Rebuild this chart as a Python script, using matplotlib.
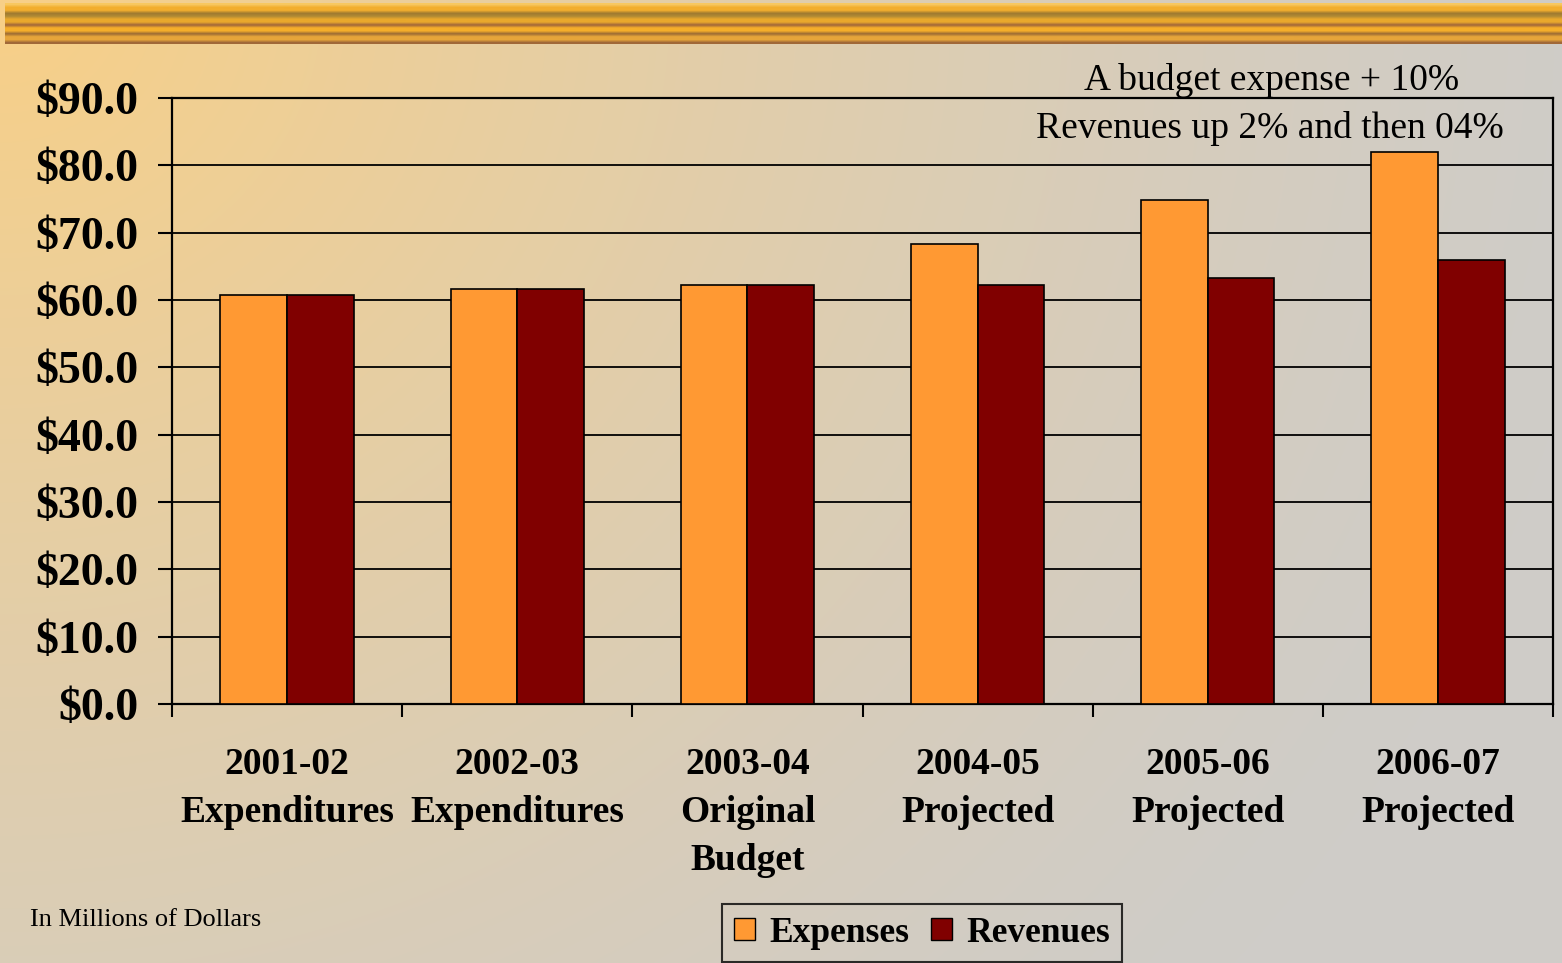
import numpy as np
import matplotlib
matplotlib.use("Agg")
import matplotlib.pyplot as plt
from matplotlib.colors import to_rgb
from matplotlib.patches import Patch

# Daten (Millionen Dollar)
categories = ["2001-02\nExpenditures", "2002-03\nExpenditures", "2003-04\nOriginal\nBudget",
              "2004-05\nProjected", "2005-06\nProjected", "2006-07\nProjected"]
expenses = [60.8, 61.7, 62.3, 68.3, 74.8, 82.0]
revenues = [60.8, 61.7, 62.3, 62.3, 63.2, 65.9]
y_ticks = [0, 10, 20, 30, 40, 50, 60, 70, 80, 90]

EXP_COLOR = "#FF9933"
REV_COLOR = "#800000"
SERIF = "Liberation Serif"
plt.rcParams["font.family"] = SERIF

W, H = 1562, 963
fig = plt.figure(figsize=(W / 100, H / 100), dpi=100)

# Hintergrund: Verlauf von orange (oben links) nach grau
bg = fig.add_axes([0, 0, 1, 1], zorder=0)
bg.set_xlim(0, W)
bg.set_ylim(H, 0)
bg.axis("off")
xx, yy = np.meshgrid(np.arange(W), np.arange(H))
d = np.sqrt((xx / 1.2) ** 2 + (yy / 1.1) ** 2)
t = np.clip(1 - d / 1350, 0, 1) ** 1.3
orange = np.array((248, 208, 135)) / 255
gray = np.array((207, 204, 200)) / 255
grad = gray[None, None, :] * (1 - t[..., None]) + orange[None, None, :] * t[..., None]
bg.imshow(grad, extent=[0, W, H, 0], aspect="auto", interpolation="bilinear")

# goldene Streifen oben
stripes = ["#F8C860", "#F2AE2E", "#F2AE2E", "#A07A30", "#B08A34", "#E9A82C", "#E9A82C",
           "#A0663A", "#F5AE2A", "#F5AE2A", "#9C6C34", "#E6A53A", "#E6A53A", "#A06838"]
band = np.array([[to_rgb(c)] for c in stripes])
bg.imshow(band, extent=[5, W, 44, 3], aspect="auto", interpolation="bilinear")

# Diagramm
ax = fig.add_axes([172 / W, 1 - 704 / H, (1553 - 172) / W, (704 - 98) / H], zorder=1)
ax.set_facecolor("none")
x = np.arange(len(categories))
bw = 0.29
ax.bar(x - bw / 2, expenses, bw, color=EXP_COLOR, edgecolor="black", linewidth=1.2, zorder=3)
ax.bar(x + bw / 2, revenues, bw, color=REV_COLOR, edgecolor="black", linewidth=1.2, zorder=3)

ax.set_xlim(-0.5, len(categories) - 0.5)
ax.set_ylim(0, 90)
ax.yaxis.grid(True, color="black", linewidth=1.3, zorder=1)
ax.set_axisbelow(True)
ax.set_yticks(y_ticks)
ax.set_yticklabels([f"${v:.1f}" for v in y_ticks])
ax.tick_params(axis="y", direction="out", length=10, width=1.5, pad=14, labelsize=33)

ax.set_xticks(x)
ax.set_xticklabels(categories)
ax.set_xticks(np.arange(-0.5, len(categories)), minor=True)
ax.tick_params(axis="x", which="major", length=0, pad=31, labelsize=27)
ax.tick_params(axis="x", which="minor", direction="out", length=9, width=1.5)
for lbl in ax.get_yticklabels():
    lbl.set_fontweight("bold")
for lbl in ax.get_xticklabels():
    lbl.set_fontweight("bold")
    lbl.set_linespacing(1.48)
for s in ax.spines.values():
    s.set_linewidth(1.6)
    s.set_color("black")

# Anmerkungen
fig.text(1272 / W, 1 - 80 / H, "A budget expense + 10%", fontsize=27,
         ha="center", va="center", zorder=5)
fig.text(1270 / W, 1 - 129 / H, "Revenues up 2% and then 04%", fontsize=27,
         ha="center", va="center", zorder=5)
fig.text(30 / W, 1 - 920 / H, "In Millions of Dollars", fontsize=19,
         ha="left", va="center", zorder=5)

handles = [Patch(facecolor=EXP_COLOR, edgecolor="black", label="Expenses"),
           Patch(facecolor=REV_COLOR, edgecolor="black", label="Revenues")]
leg = fig.legend(handles=handles, loc="center", bbox_to_anchor=(922 / W, 1 - 933 / H), ncol=2,
                 prop={"family": SERIF, "weight": "bold", "size": 25.5}, frameon=True, fancybox=False,
                 handlelength=0.6, handleheight=0.6, handletextpad=0.4, columnspacing=0.6,
                 borderpad=0.35, borderaxespad=0)
leg.get_frame().set_facecolor("none")
leg.get_frame().set_edgecolor("black")
leg.get_frame().set_linewidth(1.5)
leg.set_zorder(5)

fig.savefig("out.png", dpi=100)
